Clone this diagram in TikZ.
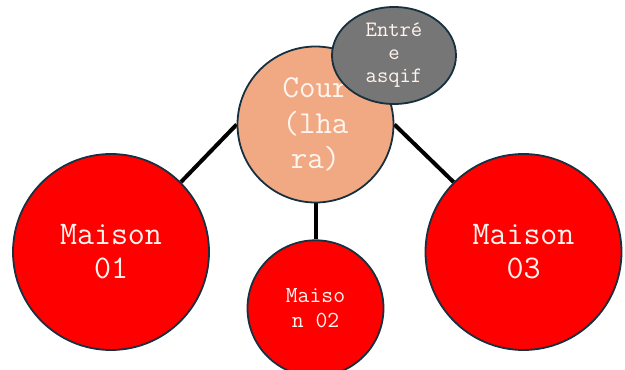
\documentclass[tikz,border=0pt]{standalone}
\usepackage{fontspec}
\usetikzlibrary{positioning, shapes.geometric, backgrounds}
\definecolor{courfill}{HTML}{F1A983}
\definecolor{entrfill}{HTML}{767676}
\definecolor{maisfill}{HTML}{FF0000}
\definecolor{bordline}{HTML}{17303F}
\definecolor{txtlight}{HTML}{FFF4EE}
\tikzset{
  rond/.style  = {circle, draw=bordline, line width=1.8pt, inner sep=0pt,
                  align=center, text=txtlight, font=\ttfamily},
  cour/.style  = {rond, fill=courfill, minimum size=156pt,
                  font=\ttfamily\fontsize{32}{35.5}\selectfont},
  maison/.style = {rond, fill=maisfill},
  grand/.style  = {maison, minimum size=196pt,
                  font=\ttfamily\fontsize{33}{34}\selectfont},
  petit/.style  = {maison, minimum size=136pt,
                  font=\ttfamily\fontsize{23}{25}\selectfont},
  entree/.style = {ellipse, draw=bordline, line width=1.8pt, fill=entrfill,
                  inner sep=0pt, minimum width=124pt, minimum height=97pt,
                  align=center, text=txtlight,
                  font=\ttfamily\fontsize{22}{23}\selectfont},
  lien/.style  = {draw=black, line width=4pt}
}

\begin{document}
\begin{tikzpicture}[x=1pt, y=-1pt]
  \useasboundingbox (0,0) rectangle (625,370);
  \node[cour] (cour) at (315.5,124.5) {Cour\\(lha\\ra)};
  \node[grand] (m1) at (111,252) {Maison\\01};
  \node[grand] (m3) at (523.5,252) {Maison\\03};
  \node[petit, below=36pt of cour] (m2) {Maiso\\n 02};
  \node[entree] (entree) at (394,55.5) {Entré\\e\\asqif};
  % liens entre la cour et les maisons
  \begin{scope}[on background layer]
    \path[lien] (cour.west) -- (m1.45);
    \path[lien] (cour.east) -- (m3.135);
    \path[lien] (cour.south) -- (m2.north);
  \end{scope}
\end{tikzpicture}
\end{document}
